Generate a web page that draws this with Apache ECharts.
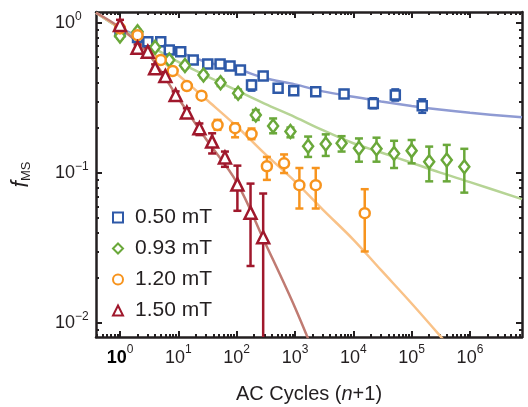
<!DOCTYPE html>
<html><head><meta charset="utf-8">
<script src="https://cdn.jsdelivr.net/npm/echarts@6/dist/echarts.min.js"></script>
<style>html,body{margin:0;padding:0;background:#fff}#c{width:528px;height:407px}</style>
</head><body><div id="c"></div>
<script>
// ---------- data ----------
const seriesNames = ['0.50 mT', '0.93 mT', '1.20 mT', '1.50 mT'];

const n050 = [1, 2, 3, 5, 7, 11, 18, 32, 52, 77, 116, 180, 285, 514, 953, 2270, 6940, 22000, 52500, 152000];
const f050 = [0.875, 0.80, 0.75, 0.75, 0.66, 0.644, 0.567, 0.533, 0.533, 0.516, 0.486, 0.386, 0.443, 0.367, 0.354, 0.348, 0.336, 0.291, 0.331, 0.281];
const lo050 = [0.85, 0.78, 0.73, 0.73, 0.64, 0.625, 0.55, 0.515, 0.515, 0.50, 0.47, 0.354, 0.425, 0.352, 0.34, 0.335, 0.32, 0.27, 0.304, 0.252];
const hi050 = [0.90, 0.82, 0.77, 0.77, 0.68, 0.665, 0.585, 0.55, 0.55, 0.535, 0.50, 0.413, 0.46, 0.383, 0.37, 0.362, 0.357, 0.315, 0.361, 0.31];

const n093 = [1, 2, 4, 7, 13, 27, 53, 106, 213, 422, 836, 1680, 3370, 6300, 12500, 25000, 50000, 100000, 200000, 400000, 800000];
const f093 = [0.82, 0.875, 0.689, 0.567, 0.52, 0.45, 0.40, 0.34, 0.244, 0.206, 0.189, 0.151, 0.156, 0.158, 0.146, 0.145, 0.135, 0.141, 0.119, 0.122, 0.110];
const lo093 = [0.79, 0.85, 0.665, 0.545, 0.50, 0.43, 0.38, 0.32, 0.226, 0.184, 0.173, 0.128, 0.13, 0.139, 0.119, 0.119, 0.108, 0.116, 0.088, 0.088, 0.074];
const hi093 = [0.85, 0.90, 0.715, 0.59, 0.54, 0.47, 0.42, 0.36, 0.263, 0.231, 0.201, 0.175, 0.181, 0.176, 0.17, 0.172, 0.164, 0.166, 0.15, 0.154, 0.145];

const n120 = [1, 2, 5, 8, 14, 25, 47, 94, 180, 330, 650, 1190, 2270, 15700];
const f120 = [0.92, 0.83, 0.567, 0.479, 0.38, 0.328, 0.209, 0.199, 0.182, 0.111, 0.116, 0.083, 0.083, 0.054];
const lo120 = [0.89, 0.80, 0.545, 0.46, 0.365, 0.312, 0.194, 0.173, 0.168, 0.09, 0.10, 0.058, 0.058, 0.030];
const hi120 = [0.95, 0.86, 0.59, 0.50, 0.395, 0.345, 0.226, 0.214, 0.198, 0.128, 0.133, 0.108, 0.108, 0.078];

const n150 = [1, 2, 3, 4, 6, 9, 14, 23, 38, 63, 103, 173, 285];
const f150 = [0.97, 0.685, 0.644, 0.5, 0.443, 0.331, 0.253, 0.199, 0.162, 0.127, 0.084, 0.0544, 0.0373];
const lo150 = [0.86, 0.655, 0.60, 0.475, 0.42, 0.31, 0.235, 0.179, 0.135, 0.11, 0.056, 0.024, 0.001];
const hi150 = [1.05, 0.72, 0.69, 0.53, 0.47, 0.35, 0.27, 0.214, 0.184, 0.139, 0.112, 0.085, 0.073];

// fitted curves
const fitN = [0.388, 1, 3, 10, 30, 100, 300, 1000, 3000, 1e4, 3e4, 1e5, 3e5, 1e6, 7.8e6];
const fit050 = [1.17, 0.93, 0.77, 0.645, 0.55, 0.495, 0.43, 0.39, 0.35, 0.322, 0.30, 0.28, 0.265, 0.252, 0.235];
const fit093 = [1.17, 0.92, 0.72, 0.55, 0.445, 0.355, 0.29, 0.236, 0.193, 0.158, 0.137, 0.117, 0.101, 0.087, 0.067];
const fit120 = [1.17, 0.92, 0.67, 0.45, 0.31, 0.205, 0.135, 0.088, 0.057, 0.036, 0.0225, 0.0135, 0.0083, 0.0048, 0.0019];
const fitN150 = [0.388, 1, 3, 10, 30, 100, 300, 1000, 3000];
const fit150 = [1.17, 0.93, 0.63, 0.315, 0.168, 0.087, 0.035, 0.0127, 0.0045];

const xMajor = [1, 10, 100, 1000, 10000, 100000, 1000000];
const yMajor = [0.01, 0.1, 1];

// ---------- styling ----------
const X_MIN = 0.388, X_MAX = 7.8e6, Y_MIN = 0.00807, Y_MAX = 1.184;
const INK = '#231f20';
const FONT = '"Liberation Sans", Arial, Helvetica, sans-serif';
const markerColors = ['#2e59a8', '#6aa83a', '#f7941e', '#a0182c'];
const lineColors = ['#8f9bd3', '#b6d495', '#f9c288', '#c07b72'];
const symbols = ['rect', 'diamond', 'circle', 'triangle'];
const symbolSizes = [9, [10, 13], 10, 12];

function minors(lo, hi) {
  const out = [];
  for (let k = -3; k <= 7; k++) for (let m = 2; m <= 9; m++) {
    const v = m * Math.pow(10, k);
    if (v > lo && v < hi) out.push(v);
  }
  return out;
}
const xMinor = minors(X_MIN, X_MAX);
const yMinor = minors(Y_MIN, Y_MAX);

function expText(v) {
  const e = Math.round(Math.log10(v));
  return e < 0 ? '\u2212' + (-e) : String(e);
}

function axisSet(major, minor, min, max, isY) {
  const posA = isY ? 'left' : 'bottom';
  const posB = isY ? 'right' : 'top';
  const base = (pos, ticks, len, showLine, label) => ({
    type: 'log', logBase: 10, min: min, max: max, position: pos,
    axisLine: { show: showLine, onZero: false, lineStyle: { color: INK, width: 2.5 } },
    axisTick: { show: true, inside: true, length: len, customValues: ticks, lineStyle: { color: INK, width: 2 } },
    axisLabel: label || { show: false },
    splitLine: { show: false }, minorTick: { show: false }, minorSplitLine: { show: false },
    silent: true
  });
  const label = isY ? {
    show: true, customValues: major, align: 'left', margin: 41,
    formatter: v => '{b|10}{s|' + expText(v) + '}',
    rich: {
      b: { fontSize: 18, color: INK, fontFamily: FONT },
      s: { fontSize: 12, color: INK, fontFamily: FONT, padding: [0, 0, 12, 0] }
    }
  } : {
    show: true, customValues: major, margin: 7,
    formatter: v => (v === 1 ? '{bb|10}' : '{b|10}') + '{s|' + expText(v) + '}',
    rich: {
      b: { fontSize: 18, color: INK, fontFamily: FONT },
      bb: { fontSize: 18, color: '#000', fontWeight: 'bold', fontFamily: FONT },
      s: { fontSize: 12, color: INK, fontFamily: FONT, padding: [0, 0, 16, 0] }
    }
  };
  return [
    base(posA, major, 6, true, label),
    base(posA, minor, 3, false, null),
    base(posB, major, 6, true, null),
    base(posB, minor, 3, false, null)
  ];
}

const xAxes = axisSet(xMajor, xMinor, X_MIN, X_MAX, false);
const yAxes = axisSet(yMajor, yMinor, Y_MIN, Y_MAX, true);
xAxes[0].name = 'AC Cycles ({i|n}+1)';
xAxes[0].nameLocation = 'middle';
xAxes[0].nameGap = 47;
xAxes[0].nameTextStyle = { fontSize: 20, color: INK, fontFamily: FONT,
  rich: { i: { fontSize: 20, fontStyle: 'italic', color: INK, fontFamily: FONT } } };
yAxes[0].name = '{f|f}{m|MS}';
yAxes[0].nameLocation = 'middle';
yAxes[0].nameGap = 63;
yAxes[0].nameTextStyle = { color: INK, fontFamily: FONT,
  rich: {
    f: { fontSize: 23, fontStyle: 'italic', color: INK, fontFamily: FONT },
    m: { fontSize: 13, color: INK, fontFamily: FONT, padding: [10, 0, 0, 0] }
  } };

const pts = [[n050, f050, lo050, hi050], [n093, f093, lo093, hi093], [n120, f120, lo120, hi120], [n150, f150, lo150, hi150]];
const fits = [[fitN, fit050], [fitN, fit093], [fitN, fit120], [fitN150, fit150]];

const series = [];
fits.forEach((ft, i) => {
  series.push({
    name: 'fit ' + seriesNames[i], type: 'line', xAxisIndex: 0, yAxisIndex: 0,
    data: ft[0].map((n, j) => [n, ft[1][j]]),
    showSymbol: false, smooth: 0.35, clip: true, silent: true, z: 1,
    lineStyle: { color: lineColors[i], width: 2.5 }
  });
});
pts.forEach((p, i) => {
  const col = markerColors[i];
  series.push({
    name: 'err ' + seriesNames[i], type: 'custom', xAxisIndex: 0, yAxisIndex: 0,
    clip: true, silent: true, z: 2,
    data: p[0].map((n, j) => [n, p[2][j], p[3][j]]),
    encode: { x: 0, y: [1, 2] },
    renderItem: function (params, api) {
      const x = api.value(0);
      const a = api.coord([x, api.value(1)]);
      const b = api.coord([x, api.value(2)]);
      const w = 4;
      const st = { stroke: col, lineWidth: 2.5 };
      return { type: 'group', children: [
        { type: 'line', shape: { x1: a[0], y1: a[1], x2: b[0], y2: b[1] }, style: st },
        { type: 'line', shape: { x1: a[0] - w, y1: a[1], x2: a[0] + w, y2: a[1] }, style: st },
        { type: 'line', shape: { x1: b[0] - w, y1: b[1], x2: b[0] + w, y2: b[1] }, style: st }
      ] };
    }
  });
});
pts.forEach((p, i) => {
  series.push({
    name: seriesNames[i], type: 'scatter', xAxisIndex: 0, yAxisIndex: 0, z: 3,
    symbol: symbols[i], symbolSize: symbolSizes[i],
    itemStyle: { color: '#ffffff', borderColor: markerColors[i], borderWidth: 2.5, opacity: 1 },
    data: p[0].map((n, j) => [n, p[1][j]])
  });
});

const chart = echarts.init(document.getElementById('c'), null, { renderer: 'canvas' });
chart.setOption({
  animation: false,
  backgroundColor: '#ffffff',
  grid: { left: 96, right: 6, top: 12, bottom: 70, containLabel: false, outerBoundsMode: 'none' },
  legend: {
    data: seriesNames, orient: 'vertical', left: 107, top: 202,
    itemWidth: 10, itemHeight: 10, itemGap: 10, selectedMode: false,
    textStyle: { fontSize: 21, color: INK, fontFamily: FONT, padding: [0, 0, 0, 7] }
  },
  xAxis: xAxes,
  yAxis: yAxes,
  series: series
});
</script></body></html>
